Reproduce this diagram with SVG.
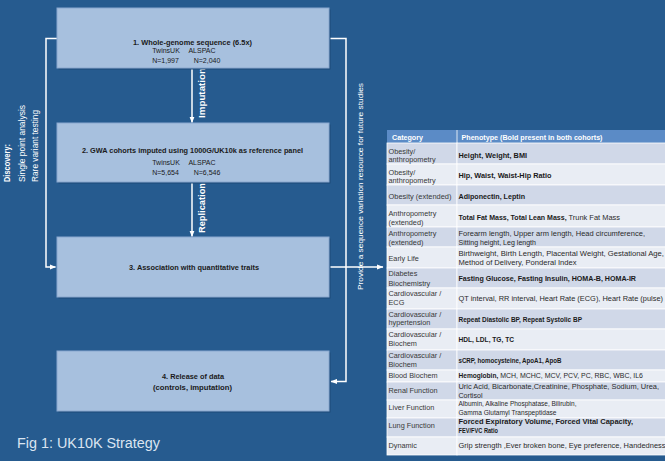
<svg xmlns="http://www.w3.org/2000/svg" width="665" height="461" viewBox="0 0 665 461">
<defs>
<marker id="ah" markerWidth="7" markerHeight="6" refX="6" refY="3" orient="auto" markerUnits="userSpaceOnUse">
<path d="M0,0.4 L6.5,3 L0,5.6 z" fill="#ffffff"/>
</marker>
<style>
.bg{fill:#265b8f}
.box{fill:#a7c0de;stroke:#8aa8cf;stroke-width:1}
.sh{fill:#1d4b78}
.bt{font-family:"Liberation Sans",Arial,sans-serif;font-size:7px;fill:#1a1a1a;text-anchor:middle}
.b{font-weight:bold}
.conn{fill:none;stroke:#ffffff;stroke-width:1.5}
.lbl{font-family:"Liberation Sans",Arial,sans-serif;fill:#ffffff}
.th{fill:#5b8bc6}
.rd{fill:#d0d8e8;stroke:#ffffff;stroke-width:0.8}
.rl{fill:#e9edf4;stroke:#ffffff;stroke-width:0.8}
.cat{font-family:"Liberation Sans",Arial,sans-serif;font-size:7.3px;fill:#383838}
.ph{font-family:"Liberation Sans",Arial,sans-serif;font-size:7px;fill:#2a2a2a}
.pb{font-family:"Liberation Sans",Arial,sans-serif;font-size:6.6px;font-weight:bold;fill:#1a1a1a}
.hd{font-family:"Liberation Sans",Arial,sans-serif;font-size:7px;font-weight:bold;fill:#ffffff}
</style>
</defs>
<rect class="bg" x="0" y="0" width="665" height="461"/>

<g id="connectors">
<path class="conn" d="M57,38.5 H46 V267 H55.5" marker-end="url(#ah)"/>
<path class="conn" d="M329,38.5 H346 V381.5 H331" marker-end="url(#ah)"/>
<path class="conn" d="M329,267 H383" marker-end="url(#ah)"/>
<path class="conn" d="M192,68 V122.5" marker-end="url(#ah)"/>
<path class="conn" d="M192,182 V236.5" marker-end="url(#ah)"/>
<text class="lbl b" font-size="9" text-anchor="middle" textLength="50" lengthAdjust="spacingAndGlyphs" transform="translate(205,93) rotate(-90)">Imputation</text>
<text class="lbl b" font-size="9" text-anchor="middle" textLength="50" lengthAdjust="spacingAndGlyphs" transform="translate(205,208) rotate(-90)">Replication</text>
<text class="lbl" font-size="7.8" text-anchor="middle" textLength="207" lengthAdjust="spacingAndGlyphs" transform="translate(362.5,186.5) rotate(-90)">Provide a sequence variation resource for future studies</text>
</g>

<g id="discovery">
<text class="lbl b" font-size="8.5" textLength="38" lengthAdjust="spacingAndGlyphs" transform="translate(10,182) rotate(-90)">Discovery:</text>
<text class="lbl" font-size="8.5" textLength="77" lengthAdjust="spacingAndGlyphs" transform="translate(25,182) rotate(-90)">Single point analysis</text>
<text class="lbl" font-size="8.5" textLength="72" lengthAdjust="spacingAndGlyphs" transform="translate(38,182) rotate(-90)">Rare variant testing</text>
</g>

<g id="node1">
<rect class="sh" x="58.5" y="9.5" width="272" height="60"/>
<rect class="box" x="57" y="8" width="272" height="60"/>
<text class="bt b" x="192.5" y="44.5" textLength="119" lengthAdjust="spacingAndGlyphs">1. Whole-genome sequence (6.5x)</text>
<text class="bt" x="166" y="53">TwinsUK</text>
<text class="bt" x="202" y="53">ALSPAC</text>
<text class="bt" x="165.5" y="63">N=1,997</text>
<text class="bt" x="207" y="63">N=2,040</text>
</g>

<g id="node2">
<rect class="sh" x="58.5" y="124.5" width="272" height="59"/>
<rect class="box" x="57" y="123" width="272" height="59"/>
<text class="bt b" x="192.5" y="153" textLength="221" lengthAdjust="spacingAndGlyphs">2. GWA cohorts imputed using 1000G/UK10k as reference panel</text>
<text class="bt" x="166" y="165">TwinsUK</text>
<text class="bt" x="202" y="165">ALSPAC</text>
<text class="bt" x="165.5" y="175">N=5,654</text>
<text class="bt" x="207" y="175">N=6,546</text>
</g>

<g id="node3">
<rect class="sh" x="58.5" y="238.5" width="272" height="60"/>
<rect class="box" x="57" y="237" width="272" height="60"/>
<text class="bt b" x="194" y="270" textLength="130" lengthAdjust="spacingAndGlyphs">3. Association with quantitative traits</text>
</g>

<g id="node4">
<rect class="sh" x="58.5" y="352.5" width="272" height="60"/>
<rect class="box" x="57" y="351" width="272" height="60"/>
<text class="bt b" x="193" y="379" textLength="62" lengthAdjust="spacingAndGlyphs">4. Release of data</text>
<text class="bt b" x="192.5" y="390" textLength="79" lengthAdjust="spacingAndGlyphs">(controls, imputation)</text>
</g>

<text id="caption" x="17" y="448" font-family="Liberation Sans, Arial, sans-serif" font-size="14" fill="#dbe5f1" textLength="143" lengthAdjust="spacingAndGlyphs">Fig 1: UK10K Strategy</text>

<g id="table">
<rect class="th" x="387" y="130" width="278" height="13"/>
<line x1="457" y1="130" x2="457" y2="143" stroke="#ffffff" stroke-width="0.8"/>
<text class="hd" x="392" y="139.5" textLength="31" lengthAdjust="spacingAndGlyphs">Category</text>
<text class="hd" x="461.5" y="139.5" textLength="141" lengthAdjust="spacingAndGlyphs">Phenotype (Bold present in both cohorts)</text>

<rect class="rd" x="387" y="143" width="70" height="21"/><rect class="rd" x="457" y="143" width="210" height="21"/>
<rect class="rl" x="387" y="164" width="70" height="21"/><rect class="rl" x="457" y="164" width="210" height="21"/>
<rect class="rd" x="387" y="185" width="70" height="20"/><rect class="rd" x="457" y="185" width="210" height="20"/>
<rect class="rl" x="387" y="205" width="70" height="22"/><rect class="rl" x="457" y="205" width="210" height="22"/>
<rect class="rd" x="387" y="227" width="70" height="20"/><rect class="rd" x="457" y="227" width="210" height="20"/>
<rect class="rl" x="387" y="247" width="70" height="21"/><rect class="rl" x="457" y="247" width="210" height="21"/>
<rect class="rd" x="387" y="268" width="70" height="20"/><rect class="rd" x="457" y="268" width="210" height="20"/>
<rect class="rl" x="387" y="288" width="70" height="21"/><rect class="rl" x="457" y="288" width="210" height="21"/>
<rect class="rd" x="387" y="309" width="70" height="20"/><rect class="rd" x="457" y="309" width="210" height="20"/>
<rect class="rl" x="387" y="329" width="70" height="21"/><rect class="rl" x="457" y="329" width="210" height="21"/>
<rect class="rd" x="387" y="350" width="70" height="20"/><rect class="rd" x="457" y="350" width="210" height="20"/>
<rect class="rl" x="387" y="370" width="70" height="12"/><rect class="rl" x="457" y="370" width="210" height="12"/>
<rect class="rd" x="387" y="382" width="70" height="18"/><rect class="rd" x="457" y="382" width="210" height="18"/>
<rect class="rl" x="387" y="400" width="70" height="18"/><rect class="rl" x="457" y="400" width="210" height="18"/>
<rect class="rd" x="387" y="418" width="70" height="19"/><rect class="rd" x="457" y="418" width="210" height="19"/>
<rect class="rl" x="387" y="437" width="70" height="18"/><rect class="rl" x="457" y="437" width="210" height="18"/>

<text class="cat" x="388.5" y="154">Obesity/</text>
<text class="cat" x="388.5" y="162">anthropometry</text>
<text class="pb" x="458.5" y="157.5" textLength="68.5" lengthAdjust="spacingAndGlyphs">Height, Weight, BMI</text>

<text class="cat" x="388.5" y="174.7">Obesity/</text>
<text class="cat" x="388.5" y="182.7">anthropometry</text>
<text class="pb" x="458.5" y="178" textLength="93" lengthAdjust="spacingAndGlyphs">Hip, Waist, Waist-Hip Ratio</text>

<text class="cat" x="388.5" y="199" textLength="63" lengthAdjust="spacingAndGlyphs">Obesity (extended)</text>
<text class="pb" x="458.5" y="199" textLength="66.5" lengthAdjust="spacingAndGlyphs">Adiponectin, Leptin</text>

<text class="cat" x="388.5" y="215.7">Anthropometry</text>
<text class="cat" x="388.5" y="224.7">(extended)</text>
<text class="ph" x="458.5" y="220" textLength="161.5" lengthAdjust="spacingAndGlyphs"><tspan font-weight="bold" font-size="6.6" fill="#1a1a1a">Total Fat Mass, Total Lean Mass,</tspan> Trunk Fat Mass</text>

<text class="cat" x="388.5" y="235.7">Anthropometry</text>
<text class="cat" x="388.5" y="244.7">(extended)</text>
<text class="ph" x="458.5" y="235.5" textLength="186.5" lengthAdjust="spacingAndGlyphs">Forearm length, Upper arm length, Head circumference,</text>
<text class="ph" x="458.5" y="244.5" textLength="77.5" lengthAdjust="spacingAndGlyphs">Sitting height, Leg length</text>

<text class="cat" x="388.5" y="260.7">Early Life</text>
<text class="ph" x="458.5" y="255.7" textLength="205.5" lengthAdjust="spacingAndGlyphs">Birthweight, Birth Length, Placental Weight, Gestational Age,</text>
<text class="ph" x="458.5" y="264.5" textLength="118" lengthAdjust="spacingAndGlyphs">Method of Delivery, Ponderal Index</text>

<text class="cat" x="388.5" y="276.4">Diabetes</text>
<text class="cat" x="388.5" y="285.7">Biochemistry</text>
<text class="pb" x="458.5" y="281" textLength="177.5" lengthAdjust="spacingAndGlyphs">Fasting Glucose, Fasting Insulin, HOMA-B, HOMA-IR</text>

<text class="cat" x="388.5" y="296.4">Cardiovascular /</text>
<text class="cat" x="388.5" y="305.4">ECG</text>
<text class="ph" x="458.5" y="301" textLength="204.5" lengthAdjust="spacingAndGlyphs">QT interval, RR interval, Heart Rate (ECG), Heart Rate (pulse)</text>

<text class="cat" x="388.5" y="317.4">Cardiovascular /</text>
<text class="cat" x="388.5" y="325.4">hypertension</text>
<text class="pb" x="458.5" y="321.5" textLength="123.5" lengthAdjust="spacingAndGlyphs">Repeat Diastolic BP, Repeat Systolic BP</text>

<text class="cat" x="388.5" y="337.4">Cardiovascular /</text>
<text class="cat" x="388.5" y="346.4">Biochem</text>
<text class="pb" x="458.5" y="342" textLength="55.5" lengthAdjust="spacingAndGlyphs">HDL, LDL, TG, TC</text>

<text class="cat" x="388.5" y="358.4">Cardiovascular /</text>
<text class="cat" x="388.5" y="367.4">Biochem</text>
<text class="pb" x="458.5" y="363" textLength="103" lengthAdjust="spacingAndGlyphs">sCRP, homocysteine, ApoA1, ApoB</text>

<text class="cat" x="388.5" y="378.4">Blood Biochem</text>
<text class="ph" x="458.5" y="378.4" textLength="184.5" lengthAdjust="spacingAndGlyphs"><tspan font-weight="bold" font-size="6.6" fill="#1a1a1a">Hemoglobin,</tspan> MCH, MCHC, MCV, PCV, PC, RBC, WBC, IL6</text>

<text class="cat" x="388.5" y="393.4">Renal Function</text>
<text class="ph" x="458.5" y="389" textLength="200.5" lengthAdjust="spacingAndGlyphs">Uric Acid, Bicarbonate,Creatinine, Phosphate, Sodium, Urea,</text>
<text class="ph" x="458.5" y="398.2" textLength="24" lengthAdjust="spacingAndGlyphs">Cortisol</text>

<text class="cat" x="388.5" y="410.4">Liver Function</text>
<text class="ph" x="458.5" y="406.4" textLength="118" lengthAdjust="spacingAndGlyphs">Albumin, Alkaline Phosphatase, Bilirubin,</text>
<text class="ph" x="458.5" y="415.4" textLength="98" lengthAdjust="spacingAndGlyphs">Gamma Glutamyl Transpeptidase</text>

<text class="cat" x="388.5" y="428.4">Lung Function</text>
<text class="pb" x="458.5" y="424" textLength="174.5" lengthAdjust="spacingAndGlyphs">Forced Expiratory Volume, Forced Vital Capacity,</text>
<text class="pb" x="458.5" y="433" textLength="39.5" lengthAdjust="spacingAndGlyphs">FEV/FVC Ratio</text>

<text class="cat" x="388.5" y="447.5">Dynamic</text>
<text class="ph" x="458.5" y="447.5" textLength="207" lengthAdjust="spacingAndGlyphs">Grip strength ,Ever broken bone, Eye preference, Handedness</text>
</g>
</svg>
